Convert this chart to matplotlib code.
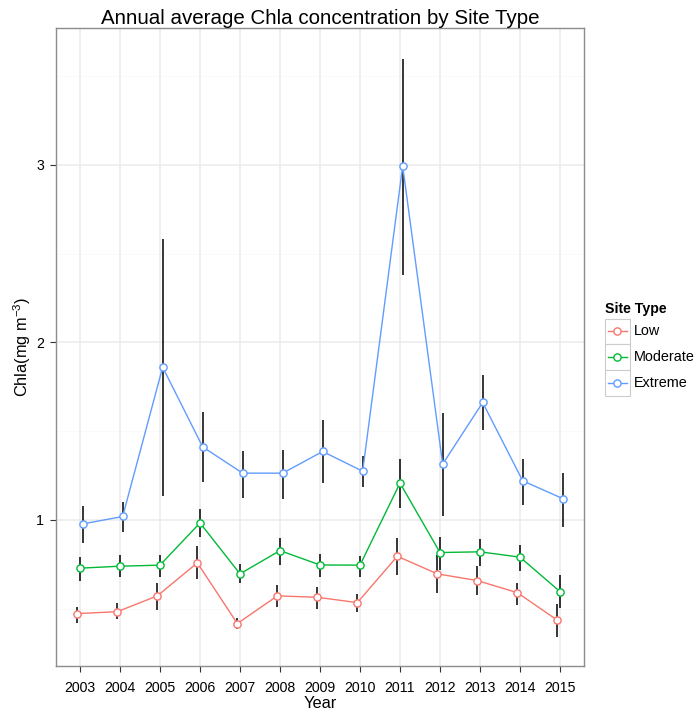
import numpy as np
import matplotlib
matplotlib.use('Agg')
import matplotlib.pyplot as plt
from matplotlib.lines import Line2D
from matplotlib.patches import Rectangle

plt.rcParams['font.family'] = ['Liberation Sans', 'DejaVu Sans']
plt.rcParams['mathtext.fontset'] = 'custom'
plt.rcParams['mathtext.rm'] = 'Liberation Sans'
plt.rcParams['mathtext.default'] = 'regular'

years = np.arange(2003, 2016)
site_types = ['Low', 'Moderate', 'Extreme']
colors = ['#F8766D', '#00BA38', '#619CFF']

# annual means and upper/lower error limits (mg m^-3)
low = [0.472, 0.483, 0.572, 0.758, 0.416, 0.572, 0.564, 0.534, 0.795, 0.696, 0.658, 0.590, 0.435]
low_hi = [0.51, 0.53, 0.645, 0.85, 0.45, 0.634, 0.62, 0.583, 0.899, 0.80, 0.741, 0.643, 0.527]
low_lo = [0.42, 0.44, 0.49, 0.666, 0.386, 0.51, 0.497, 0.482, 0.692, 0.59, 0.579, 0.523, 0.339]

moderate = [0.728, 0.739, 0.745, 0.983, 0.696, 0.827, 0.746, 0.745, 1.207, 0.816, 0.820, 0.790, 0.596]
mod_hi = [0.79, 0.80, 0.80, 1.06, 0.75, 0.90, 0.81, 0.797, 1.342, 0.906, 0.89, 0.857, 0.688]
mod_lo = [0.656, 0.68, 0.68, 0.906, 0.645, 0.746, 0.68, 0.68, 1.066, 0.718, 0.74, 0.714, 0.503]

extreme = [0.977, 1.019, 1.860, 1.411, 1.263, 1.263, 1.385, 1.274, 2.993, 1.314, 1.661, 1.220, 1.120]
ext_hi = [1.08, 1.10, 2.58, 1.61, 1.39, 1.394, 1.563, 1.36, 3.597, 1.601, 1.817, 1.342, 1.266]
ext_lo = [0.87, 0.934, 1.135, 1.216, 1.124, 1.118, 1.207, 1.186, 2.38, 1.023, 1.507, 1.083, 0.962]

series = [(low, low_lo, low_hi), (moderate, mod_lo, mod_hi), (extreme, ext_lo, ext_hi)]
dodge = [-0.0667, 0.0, 0.0667]

fig = plt.figure(figsize=(6.95, 7.15), dpi=100)
ax = fig.add_axes([56/695, 49/715, 528/695, 638/715])

# panel grid
ax.set_axisbelow(True)
for y in [0.5, 1.5, 2.5, 3.5]:
    ax.axhline(y, color='#FAFAFA', lw=0.6, zorder=0)
for y in [1, 2, 3]:
    ax.axhline(y, color='#EBEBEB', lw=1.1, zorder=0)
for x in years:
    ax.axvline(x, color='#EBEBEB', lw=1.1, zorder=0)

for (vals, lo, hi), col, dx in zip(series, colors, dodge):
    xs = years + dx
    ax.vlines(xs, lo, hi, color='black', lw=1.1, zorder=2)
    ax.plot(xs, vals, color=col, lw=1.0, zorder=3)
    ax.plot(xs, vals, 'o', ms=5.2, mfc='white', mec=col, mew=1.0, zorder=4)

ax.set_xlim(2002.4, 2015.6)
ax.set_ylim(0.177, 3.77)
ax.set_xticks(years)
ax.set_xticklabels([str(y) for y in years])
ax.set_yticks([1, 2, 3])
ax.tick_params(axis='both', length=4.5, width=0.8, color='#333333', labelsize=10.2,
               labelcolor='black')
ax.tick_params(axis='x', pad=6)
ax.tick_params(axis='y', pad=4)
for s in ax.spines.values():
    s.set_color('#8C8C8C')
    s.set_linewidth(1.0)

ax.set_xlabel('Year', fontsize=11.8, labelpad=1)
ax.set_ylabel('Chla(mg m$^{-3}$)', fontsize=11.8, labelpad=2)
ax.set_title('Annual average Chla concentration by Site Type', fontsize=14.8, pad=2)

# legend with boxed keys
fig.text(605/695, 1 - 309/715, 'Site Type', fontsize=10.2, fontweight='bold',
         ha='left', va='center')
key_w, key_h = 25.5, 25.7
for i, (name, col) in enumerate(zip(site_types, colors)):
    top = 318.5 + i * key_h
    x0 = 604.5
    fig.add_artist(Rectangle((x0/695, 1 - (top + key_h)/715), key_w/695, key_h/715,
                             transform=fig.transFigure, fc='white', ec='#CCCCCC', lw=0.8))
    yc = 1 - (top + key_h/2)/715
    fig.add_artist(Line2D([(x0 + 3)/695, (x0 + key_w - 3)/695], [yc, yc], color=col, lw=1.0,
                          transform=fig.transFigure))
    fig.add_artist(Line2D([(x0 + key_w/2)/695], [yc], marker='o', ms=5.2, mfc='white', mec=col,
                          mew=1.0, transform=fig.transFigure))
    fig.text((x0 + key_w + 4)/695, yc, name, fontsize=10.4, ha='left', va='center')

fig.savefig('out.png', dpi=100)
